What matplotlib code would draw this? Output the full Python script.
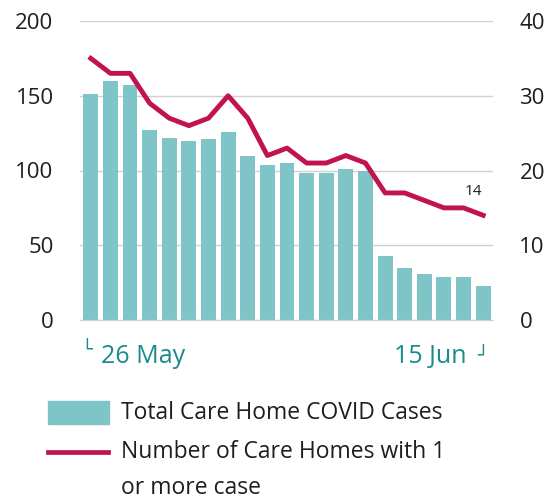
import matplotlib.pyplot as plt
from matplotlib.patches import Rectangle
from matplotlib.lines import Line2D

# Data (26 May - 15 Jun)
days = list(range(21))
total_cases = [151, 160, 157, 127, 122, 120, 121, 126, 110, 104, 105, 98, 98, 101, 100,
               43, 35, 31, 29, 29, 23]
homes_with_case = [35, 33, 33, 29, 27, 26, 27, 30, 27, 22, 23, 21, 21, 22, 21,
                   17, 17, 16, 15, 15, 14]
first_label = "26 May"
last_label = "15 Jun"
bar_label = "Total Care Home COVID Cases"
line_label = ["Number of Care Homes with 1", "or more case"]

bar_color = "#7fc4c6"
line_color = "#c0134f"
label_color = "#1a8a8c"
text_color = "#1e1e1e"

plt.rcParams["font.family"] = ["Open Sans", "DejaVu Sans"]

W, H = 550, 501
fig = plt.figure(figsize=(W / 100, H / 100), dpi=100)
ax = fig.add_axes([80 / W, 1 - 320 / H, 413 / W, 299 / H])
ax2 = ax.twinx()

# Bars
ax.bar(days, total_cases, width=0.76, color=bar_color, zorder=2)
ax.set_ylim(0, 200)
ax.set_yticks([0, 50, 100, 150, 200])
ax.set_xlim(-0.55, 20.5)
ax.set_xticks([])
ax.grid(axis="y", color="#d0d0d0", linewidth=1, zorder=0)
ax.set_axisbelow(True)

# Line
ax2.plot(days, homes_with_case, color=line_color, linewidth=3.5, solid_joinstyle="round", zorder=3)
ax2.set_ylim(0, 40)
ax2.set_yticks([0, 10, 20, 30, 40])
ax2.annotate(str(homes_with_case[-1]), (days[-1], homes_with_case[-1]),
             xytext=(-7, 17), textcoords="offset points", ha="center", va="center",
             fontsize=11, color=text_color)

for a in (ax, ax2):
    for s in a.spines.values():
        s.set_visible(False)
    a.tick_params(length=0, labelsize=16, labelcolor=text_color, pad=19)
ax.spines["bottom"].set_visible(True)
ax.spines["bottom"].set_color("#d0d0d0")

# Date labels
fig.text(81.5 / W, 1 - 342 / H, "\u2514", fontsize=13, color=label_color,
         ha="left", va="top", family=["DejaVu Sans"])
fig.text(101 / W, 1 - 363 / H, first_label, fontsize=18, color=label_color,
         ha="left", va="baseline")
fig.text(467 / W, 1 - 363 / H, last_label, fontsize=18, color=label_color,
         ha="right", va="baseline")
fig.text(488.5 / W, 1 - 348 / H, "\u2518", fontsize=13, color=label_color,
         ha="right", va="top", family=["DejaVu Sans"])

# Legend, drawn in figure pixels
fig.patches.append(Rectangle((48 / W, 1 - 424 / H), 61 / W, 23 / H, color=bar_color,
                             transform=fig.transFigure, figure=fig))
fig.lines.append(Line2D([48 / W, 108 / W], [1 - 451.7 / H] * 2, color=line_color,
                        linewidth=3.4, transform=fig.transFigure, figure=fig))
fig.text(121 / W, 1 - 419 / H, bar_label, fontsize=16.5, color=text_color, va="baseline")
fig.text(121 / W, 1 - 457.7 / H, line_label[0], fontsize=16.5, color=text_color, va="baseline")
fig.text(121 / W, 1 - 493.5 / H, line_label[1], fontsize=16.5, color=text_color, va="baseline")

fig.savefig("out.png", dpi=100)
